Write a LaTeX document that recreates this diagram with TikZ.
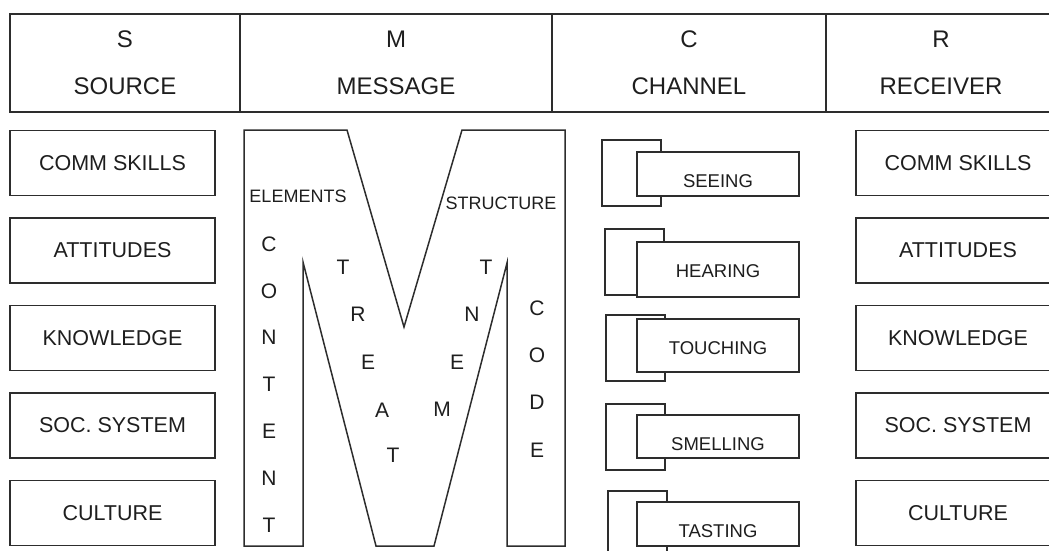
\documentclass[tikz,border=0pt]{standalone}
\usepackage{fontspec}
\setmainfont{Liberation Sans}
\usepackage{tikz}
\definecolor{linegray}{RGB}{45,45,45}
\definecolor{textgray}{RGB}{30,30,30}

\begin{document}
\begin{tikzpicture}[x=1pt,y=1pt,yscale=-1,
	every node/.style={text=textgray},
	mline/.style={draw=linegray, line width=1.5pt},
	headcell/.style={mline, minimum height=98pt, inner sep=0pt, align=center, font=\fontsize{24}{47}\selectfont},
	attrbox/.style={mline, minimum width=205pt, minimum height=65pt, inner sep=0pt, font=\fontsize{21.5}{24}\selectfont},
	mword/.style={inner sep=0pt, font=\fontsize{18}{20}\selectfont},
	mletter/.style={inner sep=0pt, font=\fontsize{21}{24}\selectfont},
	sensebox/.style={mline, fill=white, minimum width=162pt, inner sep=0pt},
	sensetext/.style={inner sep=0pt, anchor=center, yshift=-30pt, font=\fontsize{18.5}{20}\selectfont}]
	\useasboundingbox (0,0) rectangle (1049,550);
	\clip (0,0) rectangle (1049,550);
	
	% header row
	\node[headcell, minimum width=230pt] (src) at (125,63) {S\\SOURCE};
	\node[headcell, minimum width=312pt] (msg) at (396,63) {M\\MESSAGE};
	\node[headcell, minimum width=274pt] (chn) at (689,63) {C\\CHANNEL};
	\node[headcell, minimum width=230pt] (rcv) at (941,63) {R\\RECEIVER};
	
	% source and receiver boxes
	\foreach \lab [count=\i] in {COMM SKILLS, ATTITUDES, KNOWLEDGE, SOC. SYSTEM, CULTURE} {
		\node[attrbox] (s\i) at (112.5,{163+87.5*(\i-1)}) {\lab};
		\node[attrbox, minimum width=204pt] (r\i) at (958,{163+87.5*(\i-1)}) {\lab};
	}
	
	% the big M
	\draw[mline] (244,130) -- (347,130) -- (404,327) -- (462,130) -- (565,130) -- (565,546) -- (507,546) -- (507,263)
		-- (434,546) -- (376,546) -- (303,262) -- (303,546) -- (244,546) -- cycle;
	
	\node[mword] (elem) at (298,196) {ELEMENTS};
	\node[mword] (struc) at (501,203) {STRUCTURE};
	\foreach \ch [count=\i] in {C,O,N,T,E,N,T}
		\node[mletter] (cont\i) at (269,{244+46.8*(\i-1)}) {\ch};
	\foreach \ch/\px/\py [count=\i] in {T/343/267, R/358/314, E/368/362, A/382/410, T/393/455, M/442/409, E/457/362, N/472/314, T/486/267}
		\node[mletter] (treat\i) at (\px,\py) {\ch};
	\foreach \ch [count=\i] in {C,O,D,E}
		\node[mletter] (code\i) at (537,{308+47.3*(\i-1)}) {\ch};
	
	% channel boxes
	\foreach \lab/\bx/\bt/\bb/\ft/\fb [count=\i] in {SEEING/602/140/206/152/196, HEARING/605/229/295/242/297,
		TOUCHING/606/315/381/319/372, SMELLING/606/404/470/415/458, TASTING/608/491/560/502/546} {
		\draw[mline] (\bx,\bt) rectangle ({\bx+59},\bb);
		\node[sensebox, minimum height={(\fb-\ft)*1pt}, label={[sensetext]90:\lab}] (ch\i) at (718,{(\ft+\fb)/2}) {};
	}
	
\end{tikzpicture}
\end{document}
